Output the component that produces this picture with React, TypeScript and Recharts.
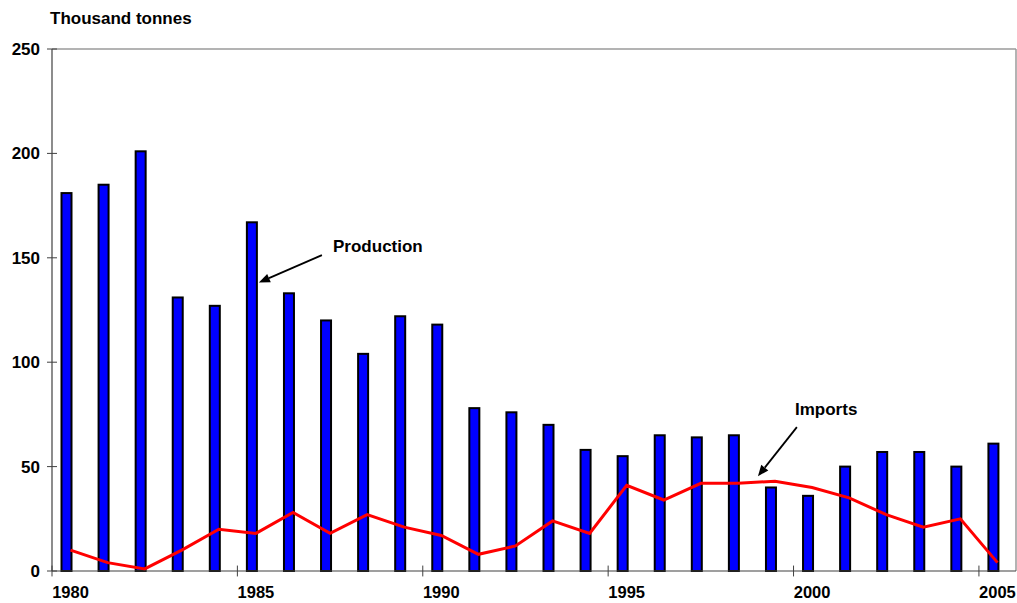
import {
  ComposedChart,
  Bar,
  Line,
  XAxis,
  YAxis,
  ReferenceLine,
  ReferenceDot,
} from 'recharts';

const YEARS = [
  '1980', '1981', '1982', '1983', '1984', '1985', '1986', '1987', '1988', '1989',
  '1990', '1991', '1992', '1993', '1994', '1995', '1996', '1997', '1998', '1999',
  '2000', '2001', '2002', '2003', '2004', '2005',
];
const PRODUCTION = [
  181, 185, 201, 131, 127, 167, 133, 120, 104, 122,
  118, 78, 76, 70, 58, 55, 65, 64, 65, 40,
  36, 50, 57, 57, 50, 61,
];
const IMPORTS = [
  10, 4, 1, 10, 20, 18, 28, 18, 27, 21,
  17, 8, 12, 24, 18, 41, 34, 42, 42, 43,
  40, 35, 27, 21, 25, 4,
];
const Y_TICKS = [0, 50, 100, 150, 200, 250];
const X_TICK_YEARS = ['1980', '1985', '1990', '1995', '2000', '2005'];

const FONT = '"Liberation Sans", Arial, Helvetica, sans-serif';
const AXIS_COLOR = '#404040';
const FRAME_COLOR = '#9a9a9a';
const Y_TICK_MARGIN = 12;

const data = YEARS.map((year, i) => ({
  year,
  idx: i,
  production: PRODUCTION[i],
  imports: IMPORTS[i],
}));

function YTick(props: any) {
  const { x, y, payload } = props;
  const ax = x + Y_TICK_MARGIN;
  return (
    <g>
      <line x1={ax - 5} x2={ax + 5} y1={y} y2={y} stroke={AXIS_COLOR} strokeWidth={1} />
      <text
        x={x}
        y={y}
        dy="0.355em"
        textAnchor="end"
        fill="#000"
        fontSize={17}
        fontWeight="bold"
        fontFamily={FONT}
      >
        {payload.value}
      </text>
    </g>
  );
}

// bars sit a little left of the category centre, as in the original
function ShiftedBar(props: any) {
  const { x, y, width, height } = props;
  if (height == null || height <= 0) return null;
  return (
    <rect
      x={x - 4.5}
      y={y}
      width={width}
      height={height}
      fill="#0000FF"
      stroke="#000"
      strokeWidth={2}
    />
  );
}

function Arrow(props: any) {
  const { x1, y1, x2, y2 } = props;
  const a = Math.atan2(y2 - y1, x2 - x1);
  const len = 11;
  const hw = 4.5;
  const bx = x2 - len * Math.cos(a);
  const by = y2 - len * Math.sin(a);
  const px = -Math.sin(a) * hw;
  const py = Math.cos(a) * hw;
  return (
    <g>
      <line x1={x1} y1={y1} x2={bx} y2={by} stroke="#000" strokeWidth={1.8} />
      <polygon
        points={`${x2},${y2} ${bx + px},${by + py} ${bx - px},${by - py}`}
        fill="#000"
      />
    </g>
  );
}

function note(label: string) {
  return (p: any) => (
    <text
      x={p.cx}
      y={p.cy}
      fill="#000"
      fontSize={17}
      fontWeight="bold"
      fontFamily={FONT}
    >
      {label}
    </text>
  );
}

export default function App() {
  return (
    <div
      style={{
        position: 'absolute',
        left: 0,
        top: 0,
        width: 1017,
        height: 603,
        background: '#fff',
        fontFamily: FONT,
      }}
    >
      <div
        style={{
          position: 'absolute',
          left: 50,
          top: 10,
          fontSize: 17,
          lineHeight: '17px',
          fontWeight: 'bold',
          color: '#000',
        }}
      >
        Thousand tonnes
      </div>
      <ComposedChart
        width={1017}
        height={603}
        data={data}
        margin={{ top: 49, right: 1, bottom: 0, left: 0 }}
      >
        <XAxis
          dataKey="year"
          interval={4}
          tickLine={false}
          tickSize={0}
          tickMargin={15}
          height={32}
          axisLine={{ stroke: AXIS_COLOR, strokeWidth: 1.2 }}
          tick={{ fill: '#000', fontSize: 16.5, fontWeight: 'bold', fontFamily: FONT }}
        />
        <XAxis
          xAxisId="n"
          type="number"
          dataKey="idx"
          domain={[0, YEARS.length]}
          allowDataOverflow
          hide
        />
        <YAxis
          domain={[0, 250]}
          ticks={Y_TICKS}
          interval={0}
          width={52}
          tickLine={false}
          tickSize={0}
          tickMargin={Y_TICK_MARGIN}
          axisLine={{ stroke: AXIS_COLOR, strokeWidth: 1.2 }}
          tick={<YTick />}
        />

        {/* plot frame: top and right */}
        <ReferenceLine y={250} stroke={FRAME_COLOR} strokeWidth={1.5} />
        <ReferenceLine xAxisId="n" x={YEARS.length} stroke={FRAME_COLOR} strokeWidth={1.5} />

        {/* x tick marks on category boundaries */}
        {X_TICK_YEARS.map((yr) => {
          const i = YEARS.indexOf(yr);
          return (
            <ReferenceLine
              key={yr}
              xAxisId="n"
              segment={[{ x: i, y: -2.6 }, { x: i, y: 2.6 }]}
              stroke={AXIS_COLOR}
              strokeWidth={1}
              ifOverflow="visible"
            />
          );
        })}

        <Bar
          dataKey="production"
          barSize={10}
          fill="#0000FF"
          stroke="#000"
          strokeWidth={2}
          shape={ShiftedBar}
          isAnimationActive={false}
        />
        <Line
          type="linear"
          dataKey="imports"
          stroke="#FF0000"
          strokeWidth={3}
          dot={false}
          activeDot={false}
          isAnimationActive={false}
        />

        {/* annotations */}
        <ReferenceLine
          xAxisId="n"
          segment={[{ x: 7.28, y: 151.3 }, { x: 5.58, y: 138.2 }]}
          shape={Arrow}
          ifOverflow="visible"
        />
        <ReferenceLine
          xAxisId="n"
          segment={[{ x: 20.09, y: 68.9 }, { x: 19.04, y: 45.4 }]}
          shape={Arrow}
          ifOverflow="visible"
        />
        <ReferenceDot
          xAxisId="n"
          x={7.58}
          y={152.7}
          r={0}
          shape={note('Production')}
          ifOverflow="visible"
        />
        <ReferenceDot
          xAxisId="n"
          x={20.04}
          y={74.6}
          r={0}
          shape={note('Imports')}
          ifOverflow="visible"
        />
      </ComposedChart>
    </div>
  );
}
